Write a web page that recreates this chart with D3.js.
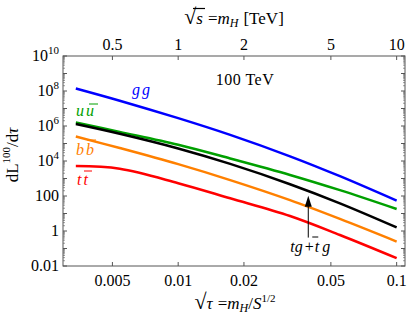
<!DOCTYPE html>
<html>
<head>
<meta charset="utf-8">
<script src="https://cdn.jsdelivr.net/npm/d3@7"></script>
<style>
  body { margin: 0; background: #fff; }
  svg { display: block; font-family: "Liberation Serif", "DejaVu Serif", serif; }
</style>
</head>
<body>
<script>
// sqrt(tau) sample points
const sqrtTau = [0.0034, 0.0054, 0.01, 0.0173, 0.0325, 0.055, 0.1];
// luminosities dL/dtau at 100 TeV
const gg    = [1.4e8, 2.8e7, 2.8e6, 3.1e5, 1.85e4, 1.35e3, 54];
const uubar = [1.6e6, 4.6e5, 8.5e4, 1.4e4, 1.6e3, 215, 18];
const tg    = [1.3e6, 3.6e5, 5.2e4, 6.8e3, 470, 38, 1.6];
const bbbar = [2.5e5, 5.5e4, 6.6e3, 810, 58, 4.9, 0.25];
const ttbar = [5.1e3, 3.6e3, 540, 74, 7.2, 0.59, 0.028];

const xTicks = [0.005, 0.01, 0.02, 0.05, 0.1];
const topTicks = [0.5, 1, 2, 5, 10];
const yTicks = [1e10, 1e8, 1e6, 1e4, 100, 1, 0.01];

const series = [
  {key: "gg", values: gg, color: "#0000ff"},
  {key: "uu", values: uubar, color: "#00a000"},
  {key: "tg", values: tg, color: "#000000"},
  {key: "bb", values: bbbar, color: "#ff8000"},
  {key: "tt", values: ttbar, color: "#ff0000"}
];

const W = 409, H = 321;
const margin = {top: 56, right: 4, bottom: 55, left: 63};
const w = W - margin.left - margin.right;
const h = H - margin.top - margin.bottom;

const x = d3.scaleLog().domain([0.00297, 0.1092]).range([0, w]);
const xTop = d3.scaleLog().domain([0.297, 10.92]).range([0, w]);
const y = d3.scaleLog().domain([0.01, 1e10]).range([h, 0]);

const svg = d3.select("body").append("svg")
    .attr("width", W)
    .attr("height", H);

const g = svg.append("g")
    .attr("transform", `translate(${margin.left},${margin.top})`);

const frameColor = "#555";
const fs = 16;

// frame
g.append("rect")
    .attr("width", w)
    .attr("height", h)
    .attr("fill", "none")
    .attr("stroke", frameColor)
    .attr("stroke-width", 1);

// y ticks (left and right), majors at each decade, minors at 2..9
const yMinor = [];
for (let e = -2; e < 10; e++) {
  for (let m = 2; m < 10; m++) yMinor.push(m * Math.pow(10, e));
}
const yDecades = d3.range(-2, 11).map(e => Math.pow(10, e));

[0, w].forEach((x0, side) => {
  const dir = side === 0 ? 1 : -1;
  g.selectAll(null).data(yDecades).enter().append("line")
      .attr("x1", x0).attr("x2", x0 + dir * 4)
      .attr("y1", d => y(d)).attr("y2", d => y(d))
      .attr("stroke", frameColor);
  g.selectAll(null).data(yMinor).enter().append("line")
      .attr("x1", x0).attr("x2", x0 + dir * 2)
      .attr("y1", d => y(d)).attr("y2", d => y(d))
      .attr("stroke", frameColor).attr("stroke-width", 0.6);
});

// y labels
const yLab = g.selectAll(null).data(yTicks).enter().append("text")
    .attr("x", -4)
    .attr("y", d => y(d) + 5)
    .attr("text-anchor", "end")
    .attr("font-size", fs);
yLab.each(function(d) {
  const t = d3.select(this);
  if (d >= 1e4) {
    t.append("tspan").text("10");
    t.append("tspan").attr("font-size", 11).attr("dy", -7).text(Math.round(Math.log10(d)));
  } else {
    t.text(d);
  }
});

// bottom ticks
g.selectAll(null).data(xTicks).enter().append("line")
    .attr("x1", d => x(d)).attr("x2", d => x(d))
    .attr("y1", h).attr("y2", h - 4)
    .attr("stroke", frameColor);
g.selectAll(null).data(xTicks).enter().append("text")
    .attr("x", d => x(d))
    .attr("y", h + 20)
    .attr("text-anchor", "middle")
    .attr("font-size", fs)
    .text(d => d);

// top ticks
g.selectAll(null).data(topTicks).enter().append("line")
    .attr("x1", d => xTop(d)).attr("x2", d => xTop(d))
    .attr("y1", 0).attr("y2", 4)
    .attr("stroke", frameColor);
g.selectAll(null).data(topTicks).enter().append("text")
    .attr("x", d => xTop(d))
    .attr("y", -6)
    .attr("text-anchor", "middle")
    .attr("font-size", fs)
    .text(d => d);

// curves
const line = d3.line()
    .x(d => x(d[0]))
    .y(d => y(d[1]))
    .curve(d3.curveCatmullRom.alpha(0.5));

g.selectAll(".curve").data(series).enter().append("path")
    .attr("class", "curve")
    .attr("d", s => line(sqrtTau.map((t, i) => [t, s.values[i]])))
    .attr("fill", "none")
    .attr("stroke", s => s.color)
    .attr("stroke-width", 2.5);

// curve labels
function pairLabel(a, b, cx, cy, color) {
  const t = g.append("text")
      .attr("x", cx).attr("y", cy)
      .attr("font-size", fs)
      .attr("font-style", "italic")
      .attr("fill", color);
  t.append("tspan").text(a);
  t.append("tspan").attr("dx", 2).text(b);
  return t;
}
pairLabel("g", "g", 132 - margin.left, 95 - margin.top, "#0000ff");

// u ubar
pairLabel("u", "u", 76 - margin.left, 116 - margin.top, "#00a000");
g.append("line").attr("x1", 89 - margin.left).attr("x2", 98 - margin.left)
    .attr("y1", 104 - margin.top).attr("y2", 104 - margin.top)
    .attr("stroke", "#00a000").attr("stroke-width", 1);

// b bbar
pairLabel("b", "b", 76 - margin.left, 155 - margin.top, "#ff8000");
g.append("line").attr("x1", 87 - margin.left).attr("x2", 96 - margin.left)
    .attr("y1", 140 - margin.top).attr("y2", 140 - margin.top)
    .attr("stroke", "#ff8000").attr("stroke-width", 1);

// t tbar
pairLabel("t", "t", 77 - margin.left, 185 - margin.top, "#ff0000");
g.append("line").attr("x1", 84 - margin.left).attr("x2", 92 - margin.left)
    .attr("y1", 171 - margin.top).attr("y2", 171 - margin.top)
    .attr("stroke", "#ff0000").attr("stroke-width", 1);

// 100 TeV
g.append("text")
    .attr("x", 245 - margin.left).attr("y", 85 - margin.top)
    .attr("text-anchor", "middle")
    .attr("font-size", fs)
    .attr("letter-spacing", 0.5)
    .text("100 TeV");

// arrow for tg + tbar g
const arrowX = 0.0394;
const ax = x(arrowX);
const tipY = y(105), baseY = y(0.42);
g.append("line")
    .attr("x1", ax).attr("x2", ax)
    .attr("y1", baseY).attr("y2", tipY + 8)
    .attr("stroke", "#000").attr("stroke-width", 1);
g.append("path")
    .attr("d", `M${ax},${tipY} L${ax - 3.5},${tipY + 11} L${ax + 3.5},${tipY + 11} Z`)
    .attr("fill", "#000");

const tgLab = g.append("text")
    .attr("x", ax + 2).attr("y", 252 - margin.top)
    .attr("text-anchor", "middle")
    .attr("font-size", fs)
    .attr("font-style", "italic");
tgLab.append("tspan").text("tg");
tgLab.append("tspan").attr("font-style", "normal").attr("dx", 2).text("+");
tgLab.append("tspan").attr("dx", 1).text("t");
tgLab.append("tspan").attr("dx", 3).text("g");
g.append("line").attr("x1", ax + 4).attr("x2", ax + 10)
    .attr("y1", 237 - margin.top).attr("y2", 237 - margin.top)
    .attr("stroke", "#000").attr("stroke-width", 1);

// top title: sqrt(s) = m_H [TeV]
const topTitle = svg.append("text")
    .attr("x", 234).attr("y", 24)
    .attr("text-anchor", "middle")
    .attr("font-size", 17);
topTitle.append("tspan").attr("font-size", 22).text("√");
topTitle.append("tspan").attr("font-style", "italic").text("s");
topTitle.append("tspan").attr("dx", 5).text("=");
topTitle.append("tspan").attr("font-style", "italic").text("m");
topTitle.append("tspan").attr("font-style", "italic").attr("font-size", 12).attr("dy", 3).text("H");
topTitle.append("tspan").attr("dy", -3).attr("dx", 5).text("[TeV]");
svg.append("line").attr("x1", 193).attr("x2", 205).attr("y1", 8.5).attr("y2", 8.5)
    .attr("stroke", "#000").attr("stroke-width", 1.2);

// bottom title: sqrt(tau) = m_H / S^{1/2}
const botTitle = svg.append("text")
    .attr("x", 235).attr("y", 309)
    .attr("text-anchor", "middle")
    .attr("font-size", 17);
botTitle.append("tspan").attr("font-size", 22).text("√");
botTitle.append("tspan").attr("font-style", "italic").text("τ");
botTitle.append("tspan").attr("dx", 5).text("=");
botTitle.append("tspan").attr("font-style", "italic").text("m");
botTitle.append("tspan").attr("font-style", "italic").attr("font-size", 12).attr("dy", 3).text("H");
botTitle.append("tspan").attr("dy", -3).text("/");
botTitle.append("tspan").attr("font-style", "italic").text("S");
botTitle.append("tspan").attr("font-size", 11).attr("dy", -7).text("1/2");

// y title
const yTitle = svg.append("text")
    .attr("transform", "translate(18,155) rotate(-90)")
    .attr("text-anchor", "middle")
    .attr("font-size", 17);
yTitle.append("tspan").text("dL");
yTitle.append("tspan").attr("font-size", 11).attr("dy", -8).text("100");
yTitle.append("tspan").attr("dy", 8).text("/d");
yTitle.append("tspan").attr("font-style", "italic").text("τ");
</script>
</body>
</html>
